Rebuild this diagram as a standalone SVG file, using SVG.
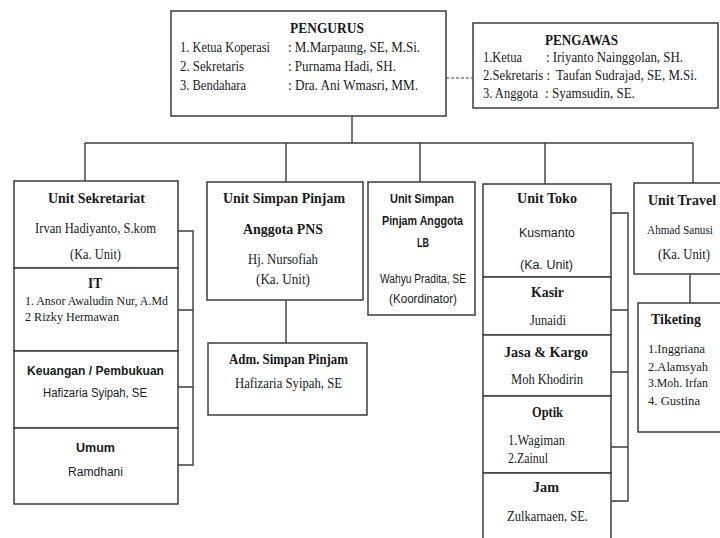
<svg xmlns="http://www.w3.org/2000/svg" width="720" height="538" viewBox="0 0 720 538">
<style>
.bx{fill:#fff;stroke:#3c3c3c;stroke-width:1.5}
.ln{fill:none;stroke:#3c3c3c;stroke-width:1.4}
.dl{fill:none;stroke:#3c3c3c;stroke-width:1.2;stroke-dasharray:3 2}
text{fill:#1a1a1a}
.sb{font-family:"Liberation Serif","Times New Roman",serif;font-weight:bold;font-size:15px}
.sr{font-family:"Liberation Serif","Times New Roman",serif;font-size:14.5px}
.nb{font-family:"Liberation Sans",Arial,sans-serif;font-weight:bold;font-size:13.5px}
.nr{font-family:"Liberation Sans",Arial,sans-serif;font-size:12.5px}
</style>
<rect width="720" height="538" fill="#fff"/>
<g id="connectors">
<path class="ln" d="M352,116 V143 M85,143 H693 M85,143 V181 M286,143 V182 M420,143 V182 M545,143 V184 M693,143 V183"/>
<path class="dl" d="M446,78 H473"/>
<path class="ln" d="M178,231 H193 V465 H178 M178,310 H193 M178,387 H193"/>
<path class="ln" d="M286,300 V343"/>
<path class="ln" d="M611,213 H628 V501 H611 M611,310 H628 M611,372 H628 M611,447 H628"/>
<path class="ln" d="M690,274 V303"/>
</g>
<g id="pengurus">
<rect class="bx" x="171" y="11" width="275" height="105"/>
<text class="sb" x="290" y="33" textLength="74" lengthAdjust="spacingAndGlyphs">PENGURUS</text>
<text class="sr" x="180" y="52" textLength="90" lengthAdjust="spacingAndGlyphs">1. Ketua Koperasi</text>
<text class="sr" x="288" y="52" textLength="132" lengthAdjust="spacingAndGlyphs">: M.Marpaung, SE, M.Si.</text>
<text class="sr" x="180" y="71" textLength="64" lengthAdjust="spacingAndGlyphs">2. Sekretaris</text>
<text class="sr" x="288" y="71" textLength="108" lengthAdjust="spacingAndGlyphs">: Purnama Hadi, SH.</text>
<text class="sr" x="180" y="90" textLength="66" lengthAdjust="spacingAndGlyphs">3. Bendahara</text>
<text class="sr" x="288" y="90" textLength="130" lengthAdjust="spacingAndGlyphs">: Dra. Ani Wmasri, MM.</text>
</g>
<g id="pengawas">
<rect class="bx" x="473" y="23" width="245" height="85"/>
<text class="sb" x="545" y="45" textLength="73" lengthAdjust="spacingAndGlyphs">PENGAWAS</text>
<text class="sr" x="483" y="62" textLength="39" lengthAdjust="spacingAndGlyphs">1.Ketua</text>
<text class="sr" x="546" y="62" textLength="137" lengthAdjust="spacingAndGlyphs">: Iriyanto Nainggolan, SH.</text>
<text class="sr" x="483" y="80" textLength="67" lengthAdjust="spacingAndGlyphs">2.Sekretaris :</text>
<text class="sr" x="556" y="80" textLength="141" lengthAdjust="spacingAndGlyphs">Taufan Sudrajad, SE, M.Si.</text>
<text class="sr" x="483" y="98" textLength="55" lengthAdjust="spacingAndGlyphs">3. Anggota</text>
<text class="sr" x="545" y="98" textLength="90" lengthAdjust="spacingAndGlyphs">: Syamsudin, SE.</text>
</g>
<g id="unit-sekretariat">
<rect class="bx" x="14" y="181" width="164" height="87"/>
<text class="sb" x="48" y="203" textLength="97" lengthAdjust="spacingAndGlyphs">Unit Sekretariat</text>
<text class="sr" x="35" y="233" textLength="121" lengthAdjust="spacingAndGlyphs">Irvan Hadiyanto, S.kom</text>
<text class="sr" x="70" y="259" textLength="51" lengthAdjust="spacingAndGlyphs">(Ka. Unit)</text>
</g>
<g id="it">
<rect class="bx" x="14" y="268" width="164" height="83"/>
<text class="sb" x="88" y="288" textLength="14" lengthAdjust="spacingAndGlyphs">IT</text>
<text class="sr" x="25" y="305" style="font-size:13.5px" textLength="143" lengthAdjust="spacingAndGlyphs">1. Ansor Awaludin Nur, A.Md</text>
<text class="sr" x="25" y="321" style="font-size:13.5px" textLength="94" lengthAdjust="spacingAndGlyphs">2  Rizky Hermawan</text>
</g>
<g id="keuangan">
<rect class="bx" x="14" y="351" width="164" height="77"/>
<text class="nb" x="27" y="375" textLength="137" lengthAdjust="spacingAndGlyphs">Keuangan / Pembukuan</text>
<text class="nr" x="43" y="397" textLength="104" lengthAdjust="spacingAndGlyphs">Hafizaria Syipah, SE</text>
</g>
<g id="umum">
<rect class="bx" x="14" y="428" width="164" height="76"/>
<text class="nb" x="76" y="452" textLength="39" lengthAdjust="spacingAndGlyphs">Umum</text>
<text class="nr" x="68" y="476" textLength="55" lengthAdjust="spacingAndGlyphs">Ramdhani</text>
</g>
<g id="unit-simpan-pinjam-pns">
<rect class="bx" x="207" y="182" width="156" height="118"/>
<text class="sb" x="223" y="203" textLength="122" lengthAdjust="spacingAndGlyphs">Unit Simpan Pinjam</text>
<text class="sb" x="243" y="234" textLength="80" lengthAdjust="spacingAndGlyphs">Anggota PNS</text>
<text class="sr" x="248" y="264" textLength="70" lengthAdjust="spacingAndGlyphs">Hj. Nursofiah</text>
<text class="sr" x="256" y="284" textLength="54" lengthAdjust="spacingAndGlyphs">(Ka. Unit)</text>
</g>
<g id="adm-simpan-pinjam">
<rect class="bx" x="208" y="343" width="159" height="72"/>
<text class="sb" x="229" y="364" textLength="119" lengthAdjust="spacingAndGlyphs">Adm. Simpan Pinjam</text>
<text class="sr" x="235" y="388" textLength="107" lengthAdjust="spacingAndGlyphs">Hafizaria Syipah, SE</text>
</g>
<g id="unit-simpan-pinjam-lb">
<rect class="bx" x="368" y="182" width="107" height="133"/>
<text class="nb" x="390" y="203" textLength="64" lengthAdjust="spacingAndGlyphs">Unit Simpan</text>
<text class="nb" x="382" y="225" textLength="81" lengthAdjust="spacingAndGlyphs">Pinjam Anggota</text>
<text class="nb" x="417" y="247" textLength="12" lengthAdjust="spacingAndGlyphs">LB</text>
<text class="nr" x="380" y="283" style="font-size:12px" textLength="86" lengthAdjust="spacingAndGlyphs">Wahyu Pradita, SE</text>
<text class="nr" x="389" y="303" style="font-size:12px" textLength="68" lengthAdjust="spacingAndGlyphs">(Koordinator)</text>
</g>
<g id="unit-toko">
<rect class="bx" x="483" y="184" width="128" height="93"/>
<text class="sb" x="517" y="203" textLength="60" lengthAdjust="spacingAndGlyphs">Unit Toko</text>
<text class="nr" x="519" y="237" textLength="56" lengthAdjust="spacingAndGlyphs">Kusmanto</text>
<text class="nr" x="520" y="269" textLength="53" lengthAdjust="spacingAndGlyphs">(Ka. Unit)</text>
</g>
<g id="kasir">
<rect class="bx" x="483" y="277" width="128" height="58"/>
<text class="sb" x="531" y="297" textLength="33" lengthAdjust="spacingAndGlyphs">Kasir</text>
<text class="sr" x="530" y="325" textLength="36" lengthAdjust="spacingAndGlyphs">Junaidi</text>
</g>
<g id="jasa-kargo">
<rect class="bx" x="483" y="335" width="128" height="61"/>
<text class="sb" x="504" y="357" textLength="84" lengthAdjust="spacingAndGlyphs">Jasa &amp; Kargo</text>
<text class="sr" x="511" y="384" textLength="72" lengthAdjust="spacingAndGlyphs">Moh Khodirin</text>
</g>
<g id="optik">
<rect class="bx" x="483" y="396" width="128" height="77"/>
<text class="sb" x="532" y="417" textLength="31" lengthAdjust="spacingAndGlyphs">Optik</text>
<text class="sr" x="508" y="445" textLength="57" lengthAdjust="spacingAndGlyphs">1.Wagiman</text>
<text class="sr" x="508" y="463" textLength="40" lengthAdjust="spacingAndGlyphs">2.Zainul</text>
</g>
<g id="jam">
<rect class="bx" x="483" y="473" width="128" height="75"/>
<text class="sb" x="533" y="492" textLength="26" lengthAdjust="spacingAndGlyphs">Jam</text>
<text class="sr" x="507" y="521" textLength="81" lengthAdjust="spacingAndGlyphs">Zulkarnaen, SE.</text>
</g>
<g id="unit-travel">
<rect class="bx" x="634" y="183" width="100" height="91"/>
<text class="sb" x="648" y="205" style="font-size:14px" textLength="68" lengthAdjust="spacingAndGlyphs">Unit Travel</text>
<text class="sr" x="647" y="234" style="font-size:12px" textLength="66" lengthAdjust="spacingAndGlyphs">Ahmad Sanusi</text>
<text class="sr" x="658" y="259" textLength="52" lengthAdjust="spacingAndGlyphs">(Ka. Unit)</text>
</g>
<g id="tiketing">
<rect class="bx" x="638" y="303" width="96" height="129"/>
<text class="sb" x="651" y="324" textLength="50" lengthAdjust="spacingAndGlyphs">Tiketing</text>
<text class="sr" x="648" y="353" style="font-size:13.5px" textLength="57" lengthAdjust="spacingAndGlyphs">1.Inggriana</text>
<text class="sr" x="648" y="371" style="font-size:13.5px" textLength="60" lengthAdjust="spacingAndGlyphs">2.Alamsyah</text>
<text class="sr" x="648" y="387" style="font-size:13.5px" textLength="60" lengthAdjust="spacingAndGlyphs">3.Moh. Irfan</text>
<text class="sr" x="648" y="405" style="font-size:13.5px" textLength="52" lengthAdjust="spacingAndGlyphs">4. Gustina</text>
</g>
</svg>
